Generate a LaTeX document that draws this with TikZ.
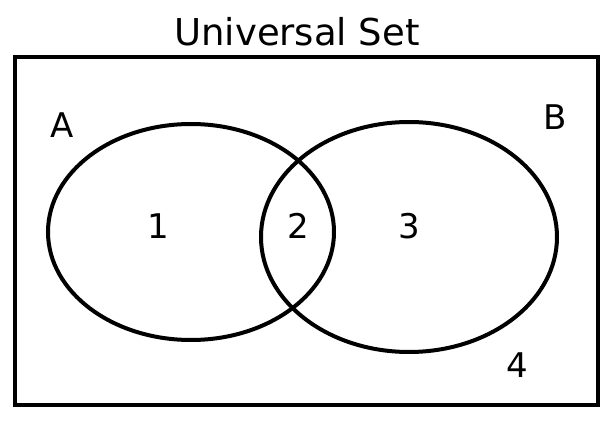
\documentclass[tikz,border=0pt]{standalone}
\usepackage{fontspec}
\setmainfont{DejaVu Sans}
\begin{document}
\begin{tikzpicture}[x=1pt,y=-1pt,
  lbl/.style={font=\fontsize{34}{36}\selectfont},
  ln/.style={line width=4pt}]
\useasboundingbox (0,0) rectangle (614,422);
\node[font=\fontsize{37}{40}\selectfont] (title) at (297,32) {Universal Set};
\draw[ln] (15,57) rectangle (598,405);
\draw[ln] (191,232) ellipse [x radius=143, y radius=108];
\draw[ln] (409,237) ellipse [x radius=148, y radius=115];
\node[lbl] (a) at (62,125) {A};
\node[lbl] (b) at (555,117) {B};
\node[lbl] (n1) at (158,226) {1};
\node[lbl] (n2) at (298,226) {2};
\node[lbl] (n3) at (409,226) {3};
\node[lbl] (n4) at (517,365) {4};
\end{tikzpicture}
\end{document}
